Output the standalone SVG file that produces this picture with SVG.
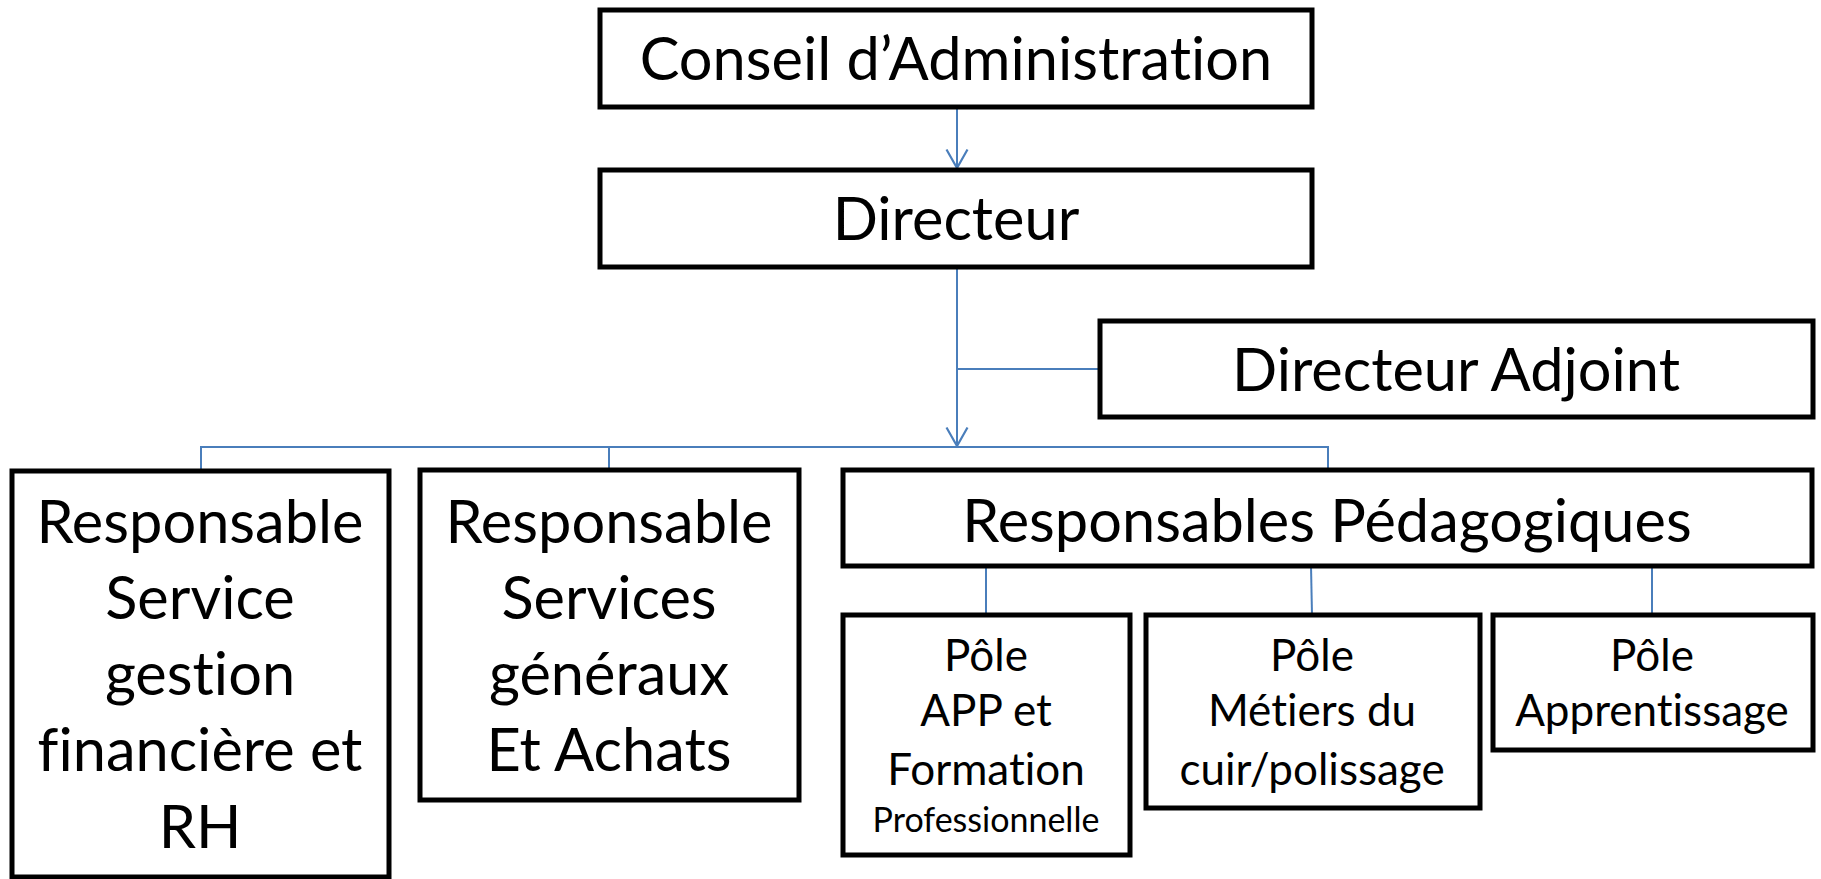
<svg xmlns="http://www.w3.org/2000/svg" width="1821" height="879" viewBox="0 0 1821 879">
<style>
.box{fill:#fff;stroke:#000;stroke-width:5}
.t{font-family:Lato,"Open Sans","Liberation Sans",sans-serif;fill:#000;text-anchor:middle;font-variant-ligatures:none}
.big{font-size:59.5px}
.mid{font-size:44px}
.sm{font-size:34px}
.c{fill:none;stroke:#4a7ebb;stroke-width:2}
</style>
<defs>
<marker id="arr" markerWidth="24" markerHeight="26" refX="20" refY="12" orient="auto" markerUnits="userSpaceOnUse" viewBox="0 0 24 26">
<path d="M1.5,1.5 L20,12 L1.5,22.5" fill="none" stroke="#4a7ebb" stroke-width="2.2"/>
</marker>
</defs>
<rect width="1821" height="879" fill="#fff"/>
<g id="connectors">
<line class="c" x1="957" y1="107" x2="957" y2="168" marker-end="url(#arr)"/>
<line class="c" x1="957" y1="267" x2="957" y2="446" marker-end="url(#arr)"/>
<line class="c" x1="957" y1="369" x2="1100" y2="369"/>
<polyline class="c" points="201,471 201,447 1328,447 1328,470"/>
<line class="c" x1="609" y1="447" x2="609" y2="470"/>
<line class="c" x1="986" y1="566" x2="986" y2="615"/>
<line class="c" x1="1311" y1="566" x2="1312" y2="615"/>
<line class="c" x1="1652" y1="566" x2="1652" y2="615"/>
</g>
<g id="conseil"><rect class="box" x="600" y="10" width="712" height="97"/><text class="t big" x="956" y="80">Conseil d’Administration</text></g>
<g id="directeur"><rect class="box" x="600" y="170" width="712" height="97"/><text class="t big" x="956" y="240">Directeur</text></g>
<g id="adjoint"><rect class="box" x="1100" y="321" width="713" height="96"/><text class="t big" x="1456" y="391">Directeur Adjoint</text></g>
<g id="rsgf"><rect class="box" x="12" y="471" width="377" height="406"/>
<text class="t big" x="200"><tspan x="200" y="543">Responsable</tspan><tspan x="200" y="619">Service</tspan><tspan x="200" y="695">gestion</tspan><tspan x="200" y="771">financière et</tspan><tspan x="200" y="848">RH</tspan></text></g>
<g id="rsg"><rect class="box" x="420" y="470" width="379" height="330"/>
<text class="t big" x="609"><tspan x="609" y="543">Responsable</tspan><tspan x="609" y="619">Services</tspan><tspan x="609" y="695">généraux</tspan><tspan x="609" y="771">Et Achats</tspan></text></g>
<g id="rp"><rect class="box" x="843" y="470" width="969" height="96"/><text class="t big" x="1327" y="542">Responsables Pédagogiques</text></g>
<g id="pole1"><rect class="box" x="843" y="615" width="287" height="240"/>
<text class="t mid"><tspan x="986" y="671">Pôle</tspan><tspan x="986" y="726">APP et</tspan><tspan x="986" y="785">Formation</tspan></text><text class="t sm" x="986" y="832">Professionnelle</text></g>
<g id="pole2"><rect class="box" x="1146" y="615" width="334" height="193"/>
<text class="t mid"><tspan x="1312" y="671">Pôle</tspan><tspan x="1312" y="726">Métiers du</tspan><tspan x="1312" y="785">cuir/polissage</tspan></text></g>
<g id="pole3"><rect class="box" x="1493" y="615" width="320" height="135"/>
<text class="t mid"><tspan x="1652" y="671">Pôle</tspan><tspan x="1652" y="726">Apprentissage</tspan></text></g>
</svg>
